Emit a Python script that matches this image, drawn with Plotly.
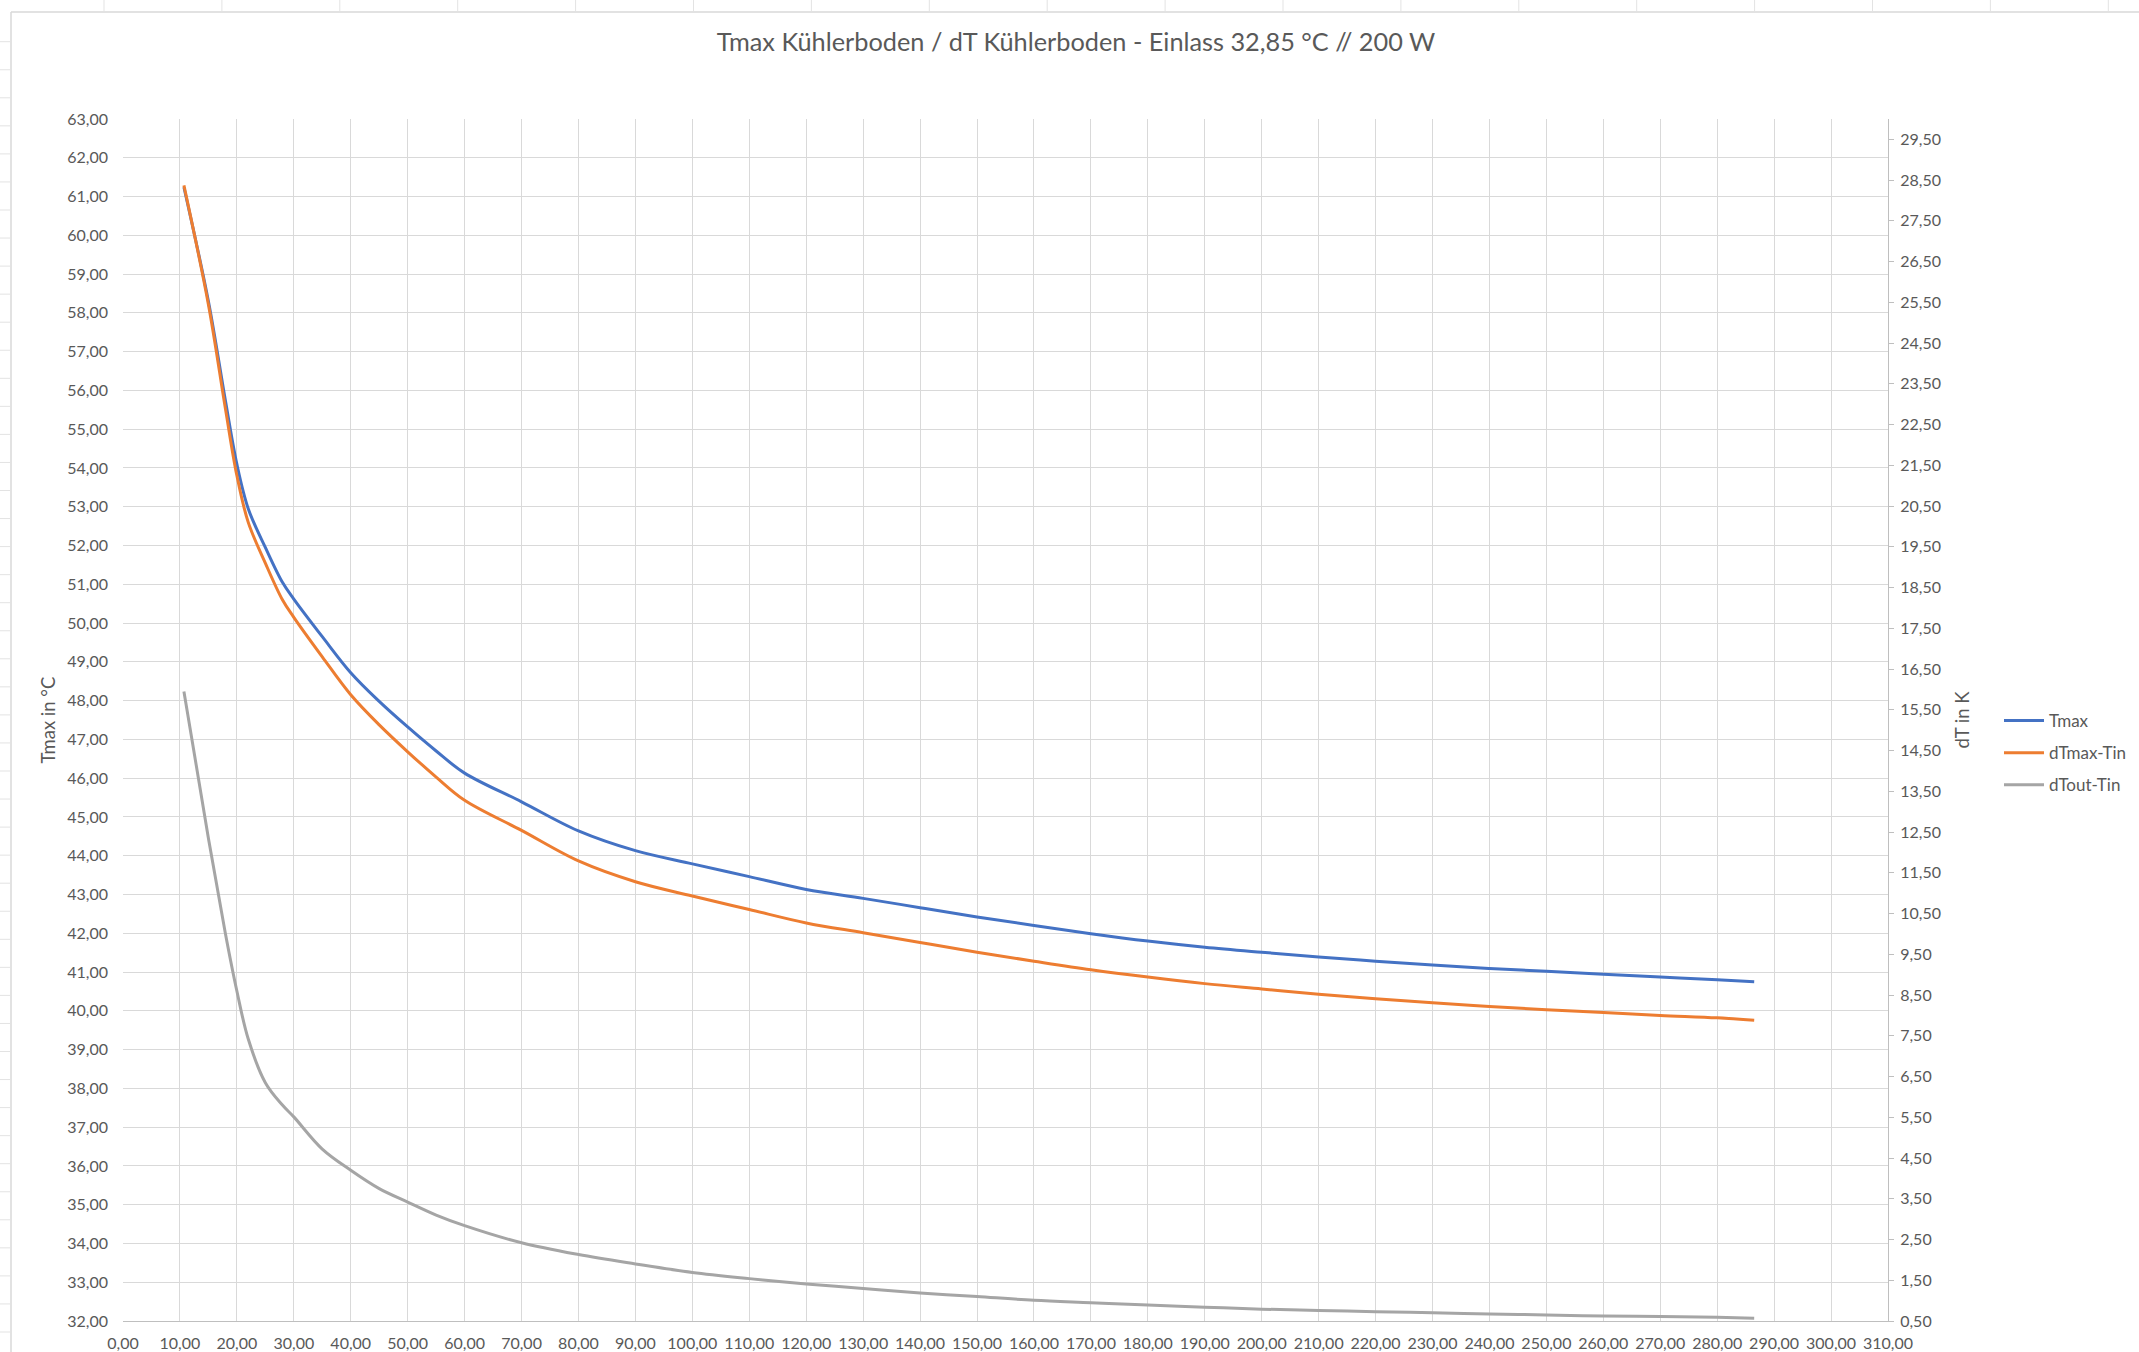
import plotly.graph_objects as go

# ---- data ----
flow = [10.7, 15, 18, 20, 22, 25, 28, 30, 35, 40, 45, 50, 55, 60, 70, 80, 90,
        100, 110, 120, 130, 140, 150, 160, 170, 180, 190, 200, 210, 220, 230, 240,
        250, 260, 270, 280, 286.5]

tmax = [61.24, 58.3, 55.73, 54.1, 52.95, 51.95, 51.05, 50.62, 49.65, 48.72, 47.98, 47.32,
        46.70, 46.13, 45.39, 44.64, 44.13, 43.79, 43.46, 43.13, 42.90, 42.66, 42.42, 42.20,
        41.99, 41.80, 41.64, 41.51, 41.39, 41.28, 41.18, 41.09, 41.02, 40.94, 40.87, 40.80,
        40.75]

dtmax_tin = [28.37, 25.45, 22.88, 21.25, 20.1, 19.1, 18.2, 17.77, 16.8, 15.87, 15.13, 14.47,
             13.85, 13.28, 12.54, 11.79, 11.28, 10.93, 10.6, 10.27, 10.03, 9.79, 9.55, 9.33,
             9.12, 8.94, 8.78, 8.65, 8.52, 8.41, 8.31, 8.22, 8.14, 8.07, 8.0, 7.94, 7.88]

dtout_tin = [15.95, 12.35, 10.0, 8.6, 7.42, 6.35, 5.8, 5.51, 4.72, 4.2, 3.75, 3.42, 3.1,
             2.84, 2.42, 2.13, 1.9, 1.69, 1.54, 1.41, 1.30, 1.19, 1.10, 1.01, 0.95, 0.89,
             0.84, 0.79, 0.76, 0.73, 0.70, 0.67, 0.65, 0.62, 0.61, 0.59, 0.57]

series_names = ["Tmax", "dTmax-Tin", "dTout-Tin"]
colors = ["#4472C4", "#ED7D31", "#A5A5A5"]

title_text = "Tmax Kühlerboden / dT Kühlerboden - Einlass 32,85 °C // 200 W"
y_title = "Tmax in °C"
y2_title = "dT in K"

# ---- layout geometry ----
W, H = 2139, 1352
L, R, T, B = 123, 251, 119, 31
pw, ph = W - L - R, H - T - B
FONT = "Lato"
TXT = "#595959"
GRID = "#D9D9D9"


def px_x(x):
    return (x - L) / pw


def px_y(y):
    return (H - B - y) / ph


fig = go.Figure()
fig.add_trace(go.Scatter(x=flow, y=tmax, name=series_names[0], mode="lines",
                         line=dict(color=colors[0], width=3, shape="spline", smoothing=1.0),
                         yaxis="y", legendgroup="a"))
fig.add_trace(go.Scatter(x=flow, y=dtmax_tin, name=series_names[1], mode="lines",
                         line=dict(color=colors[1], width=3, shape="spline", smoothing=1.0),
                         yaxis="y2", legendgroup="b"))
fig.add_trace(go.Scatter(x=flow, y=dtout_tin, name=series_names[2], mode="lines",
                         line=dict(color=colors[2], width=3, shape="spline", smoothing=1.0),
                         yaxis="y2", legendgroup="c"))

# spreadsheet background decoration (cell lines around the chart object)
shapes = []
shapes.append(dict(type="line", xref="paper", yref="paper", x0=px_x(11), x1=px_x(W + 5),
                   y0=px_y(12), y1=px_y(12), line=dict(color=GRID, width=1.5), layer="below"))
shapes.append(dict(type="line", xref="paper", yref="paper", x0=px_x(11), x1=px_x(11),
                   y0=px_y(12), y1=px_y(H + 5), line=dict(color=GRID, width=1.5), layer="below"))
yy = 41.7
while yy < H:
    shapes.append(dict(type="line", xref="paper", yref="paper", x0=px_x(0), x1=px_x(10),
                       y0=px_y(yy), y1=px_y(yy), line=dict(color="#E3E3E3", width=1), layer="below"))
    yy += 28.05
xx = 104
while xx < W:
    shapes.append(dict(type="line", xref="paper", yref="paper", x0=px_x(xx), x1=px_x(xx),
                       y0=px_y(0), y1=px_y(11), line=dict(color="#E3E3E3", width=1), layer="below"))
    xx += 117.9

fig.update_layout(
    width=W, height=H,
    paper_bgcolor="white", plot_bgcolor="white",
    separators=",.",
    font=dict(family=FONT, color=TXT, size=16),
    margin=dict(l=L, r=R, t=T, b=B, autoexpand=False),
    title=dict(text=title_text, x=1076 / W, xref="container", xanchor="center",
               y=1 - 42 / H, yref="container", yanchor="middle",
               font=dict(family=FONT, size=25.3, color=TXT)),
    xaxis=dict(range=[0, 310], tick0=0, dtick=10, tickformat=".2f",
               showgrid=True, gridcolor=GRID, gridwidth=1,
               showline=True, linecolor="#BFBFBF", linewidth=1,
               zeroline=False, ticks="", ticklabelstandoff=8,
               tickfont=dict(size=16, color=TXT)),
    yaxis=dict(range=[32, 63], tick0=32, dtick=1, tickformat=".2f",
               showgrid=True, gridcolor=GRID, gridwidth=1,
               showline=False, zeroline=False, ticks="",
               ticklabelstandoff=14,
               title=dict(text=y_title, font=dict(size=18.5, color=TXT), standoff=6),
               tickfont=dict(size=16, color=TXT)),
    yaxis2=dict(range=[0.5, 30], tick0=0.5, dtick=1, tickformat=".2f",
                overlaying="y", side="right", showgrid=False, zeroline=False,
                showline=True, linecolor="#BFBFBF", linewidth=1,
                ticks="outside", ticklen=5, tickcolor="#BFBFBF", ticklabelstandoff=3,
                title=dict(text=y2_title, font=dict(size=18.5, color=TXT), standoff=16),
                tickfont=dict(size=16, color=TXT)),
    legend=dict(x=px_x(1999), xanchor="left", y=px_y(753), yanchor="middle",
                font=dict(size=17, color=TXT), bgcolor="rgba(0,0,0,0)",
                tracegroupgap=7, itemwidth=40, traceorder="grouped"),
    shapes=shapes,
    showlegend=True,
)

fig.write_html("out.html", config={"displayModeBar": False},
               post_script="document.body.style.margin='0px';document.body.style.overflow='hidden';")
